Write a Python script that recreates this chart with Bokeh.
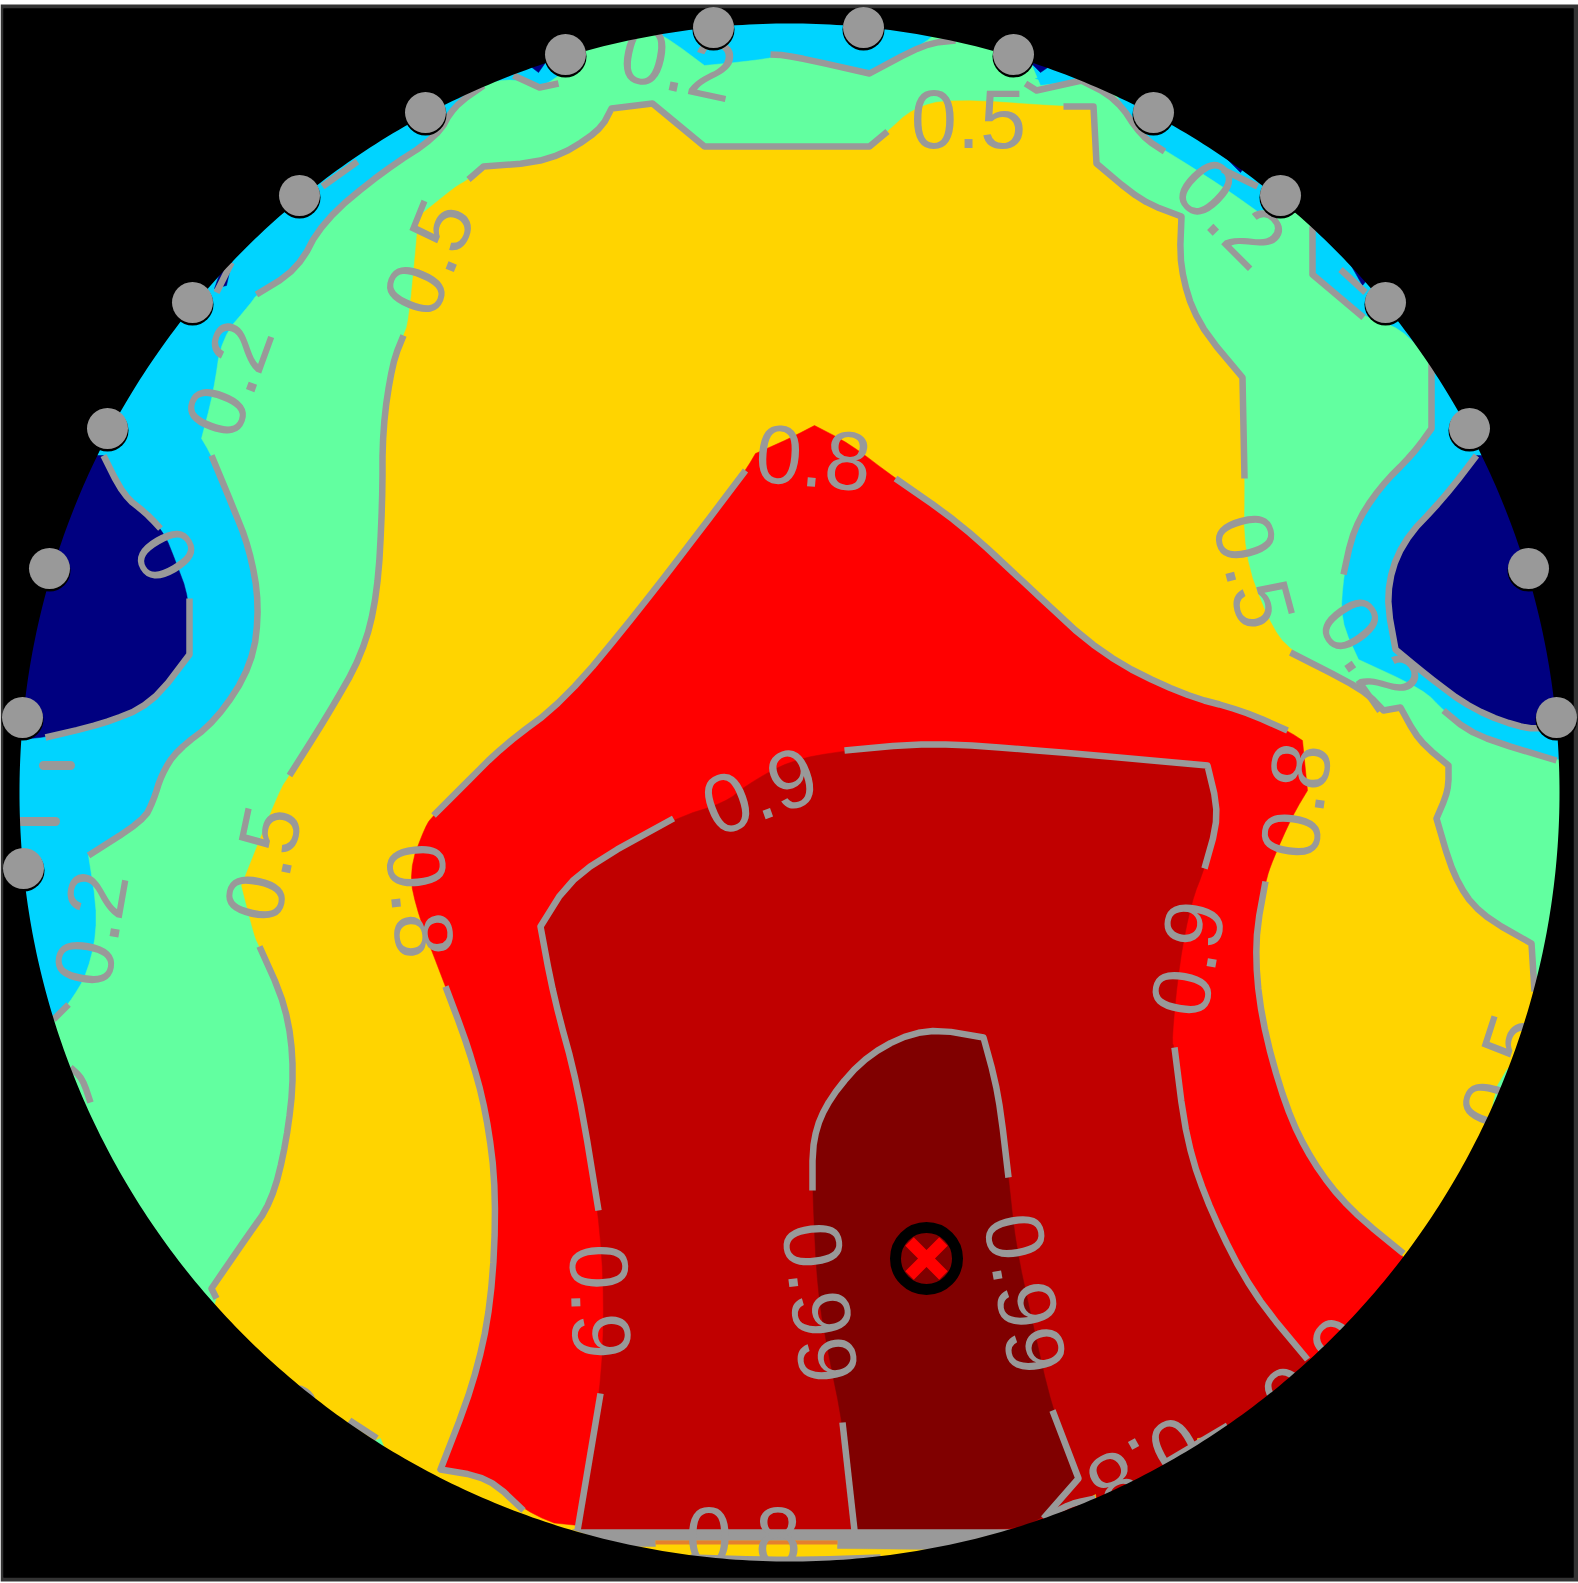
import numpy as np
from bokeh.plotting import figure
from bokeh.models import Range1d
from bokeh.core.properties import value
from bokeh.embed import file_html
from bokeh.resources import INLINE

C_NAVY, C_BLUE, C_GREEN, C_YELLOW = "#000080", "#00D4FF", "#62FFA0", "#FFD400"
C_RED, C_DARK, C_DARKEST = "#FF0000", "#C00000", "#800000"
C_GRAY = "#999999"

electrode_x = [713, 565, 425, 299, 192, 107, 49, 22, 23, 863, 1013, 1153, 1280, 1385, 1469, 1528, 1556]
electrode_y = [27, 54, 112, 195, 302, 428, 568, 717, 868, 27, 54, 112, 195, 302, 428, 568, 717]
source_x, source_y = [926], [1258]

green_region = [(5,1030),(53,1019),(68,1004),(88,971),(98,919),(88,855),(143,820),(153,800),(161,774),(176,750),(216,720),(252,664),(259,604),(249,548),(231,503),(211,455),(201,438),(213,392),(221,337),(251,302),(256,294),(297,269),(322,221),(382,171),(437,136),(453,106),(483,83),(513,78),(539,87),(560,75),(589,45),(620,15),(664,35),(704,65),(755,60),(789,54),(869,73),(925,43),(955,15),(1010,15),(1040,85),(1080,80),(1116,95),(1141,136),(1165,150),(1222,186),(1257,211),(1290,205),(1312,226),(1312,274),(1363,317),(1400,327),(1431,362),(1431,428),(1413,453),(1378,488),(1353,528),(1343,574),(1340,620),(1358,659),(1423,689),(1443,710),(1473,735),(1556,760),(1570,760),(1570,1575),(5,1575)]
yellow_region = [(216,1298),(211,1288),(246,1237),(271,1202),(286,1142),(294,1071),(286,1006),(259,946),(254,936),(241,885),(279,790),(289,775),(327,715),(362,654),(377,594),(382,503),(382,428),(392,362),(403,335),(408,322),(415,252),(418,216),(455,186),(468,179),(483,166),(549,161),(599,131),(611,108),(652,103),(704,146),(789,146),(869,146),(887,131),(912,108),(950,98),(1061,106),(1093,106),(1096,163),(1141,201),(1181,216),(1179,266),(1196,322),(1242,377),(1244,478),(1243,553),(1267,619),(1290,652),(1363,689),(1383,710),(1400,707),(1418,740),(1448,765),(1448,790),(1436,818),(1453,876),(1478,913),(1531,943),(1534,991),(1570,995),(1570,1575),(150,1575)]
red_region = [(745,470),(705,523),(639,609),(564,700),(503,745),(463,785),(433,815),(425,825),(408,871),(418,916),(445,986),(468,1047),(486,1112),(496,1193),(491,1303),(473,1384),(440,1469),(488,1477),(523,1510),(572,1530),(1012,1530),(1050,1570),(1450,1320),(1403,1253),(1348,1208),(1312,1162),(1285,1107),(1260,1016),(1254,941),(1265,881),(1272,860),(1292,815),(1307,790),(1302,740),(1287,730),(1242,710),(1181,694),(1101,654),(1031,589),(960,523),(895,478),(849,443),(814,425),(789,438),(755,453)]
dark_region = [(673,818),(573,873),(540,926),(553,996),(578,1087),(598,1210),(604,1300),(600,1393),(577,1530),(1012,1530),(1050,1570),(1350,1400),(1307,1359),(1252,1293),(1211,1213),(1186,1142),(1174,1047),(1171,1041),(1179,961),(1191,901),(1204,868),(1219,815),(1207,765),(1040,750),(930,742),(844,750),(789,760),(745,785),(725,802)]
darkest_region = [(812,1190),(812,1137),(829,1097),(869,1052),(925,1027),(983,1037),(998,1092),(1008,1177),(1015,1243),(1031,1318),(1052,1410),(1078,1478),(1043,1518),(1012,1530),(855,1530),(842,1422),(829,1359),(817,1293)]
navy_regions = [
    [(103,455),(123,495),(146,513),(164,533),(174,558),(189,598),(189,654),(151,704),(101,724),(45,737),(5,740),(5,455)],
    [(1476,455),(1443,498),(1400,543),(1385,594),(1395,649),(1425,674),(1473,710),(1529,730),(1554,725),(1570,725),(1570,455)],
    [(525,62),(545,62),(538,72)],
    [(1030,62),(1050,65),(1040,72)],
    [(221,268),(232,258),(226,285),(214,288)],
    [(1218,150),(1245,165),(1240,172)],
    [(1345,255),(1370,275),(1362,285)],
]
blue_bits = [[(1035,78),(1062,72),(1075,80),(1050,82)]]
yellow_bits = [[(1085,1500),(1095,1494),(1096,1502),(1086,1506)],[(1197,1438),(1205,1437),(1205,1444),(1197,1445)]]
green_bits = [[(1497,1085),(1507,1068),(1510,1090),(1492,1106)],[(372,1441),(380,1438),(385,1450),(375,1450)]]
bottom_band = [(572,1529),(1012,1529),(937,1549),(837,1548),(837,1540),(655,1540),(655,1546),(620,1546)]

contour_0 = [
    [(103,455),(123,495),(146,513),(160,528)],
    [(189,598),(189,654),(151,704),(101,724),(45,737)],
    [(1476,455),(1443,498),(1400,543),(1385,594),(1395,649),(1425,674),(1473,710),(1529,730),(1554,725)],
]
contour_02 = [
    [(53,1019),(68,1004)],
    [(88,855),(143,820),(153,800),(161,774),(176,750),(216,720),(252,664),(259,604),(249,548),(231,503),(211,455)],
    [(256,294),(297,269),(322,221),(382,171),(437,136),(453,106),(483,85)],
    [(513,75),(539,87),(558,83)],
    [(770,54),(789,55),(869,73),(925,43),(955,40)],
    [(1025,83),(1036,90),(1081,80),(1116,98),(1141,136),(1164,151)],
    [(1222,169),(1257,186)],
    [(1312,226),(1312,274),(1363,317)],
    [(1340,269),(1365,292)],
    [(1431,362),(1431,428),(1413,453),(1378,488),(1353,528),(1343,574)],
    [(1443,710),(1473,735),(1556,760)],
    [(322,186),(357,161)],
    [(231,262),(216,292)],
    [(70,1067),(82,1078),(90,1102)],
]
contour_05 = [
    [(216,1298),(211,1288),(246,1237),(271,1202),(286,1142),(294,1071),(286,1006),(259,946)],
    [(289,775),(327,715),(362,654),(377,594),(382,503),(382,428),(392,362),(403,335)],
    [(468,179),(483,166),(549,161),(599,131),(611,108),(652,103),(704,146),(789,146),(869,146),(887,131)],
    [(1063,106),(1093,106),(1096,163),(1141,201),(1181,216),(1179,266),(1196,322),(1242,377),(1244,478)],
    [(1290,652),(1363,689),(1383,710),(1400,707),(1418,740),(1448,765),(1448,790),(1436,818),(1453,876),(1478,913),(1531,943),(1534,991)],
]
contour_08 = [
    [(745,470),(705,523),(639,609),(564,700),(503,745),(463,785),(433,815)],
    [(445,986),(468,1047),(486,1112),(496,1193),(491,1303),(473,1384),(440,1469),(488,1477),(523,1510)],
    [(895,478),(960,523),(1031,589),(1101,654),(1181,694),(1242,710),(1287,730)],
    [(1265,881),(1254,941),(1260,1016),(1285,1107),(1312,1162),(1348,1208),(1403,1253)],
    [(1043,1518),(1070,1503),(1095,1498)],
    [(1163,1463),(1227,1425)],
    [(690,1557),(789,1560),(880,1557)],
]
contour_09 = [
    [(673,818),(573,873),(540,926),(553,996),(578,1087),(598,1210)],
    [(600,1393),(577,1530)],
    [(844,750),(930,742),(1040,750),(1207,765),(1219,815),(1204,868)],
    [(1174,1047),(1186,1142),(1211,1213),(1252,1293),(1307,1359)],
]
contour_099 = [
    [(812,1190),(812,1137),(829,1097),(869,1052),(925,1027),(983,1037),(998,1092),(1008,1177)],
    [(1052,1410),(1078,1478),(1043,1518)],
    [(842,1422),(854,1530)],
]
blobs = [[(43,765),(70,765)],[(20,821),(55,821)]]

label_text = ["0.2","0.5","0.2","0","0.5","0.2","0.8","0.5","0.2","0.9","0.8","0.8","0.9","0.5","0.2","0.9","0.99","0.99","0.8","0.8","0.9","0.5","0.5"]
label_x = [678,428,228,166,968,1230,813,1254,1370,759,1295,420,1187,262,90,600,820,1025,743,1145,1315,1502,320]
label_y = [62,257,378,554,118,212,457,570,652,790,800,900,958,863,928,1301,1302,1293,1535,1465,1370,1072,1431]
label_angle = [-12,68,70,-60,0,-45,-5,-75,-55,20,82,-84,80,78,80,-88,-83,-80,0,209,45,72,-33]

W, H = 1578, 1583
p = figure(width=W, height=H, x_range=Range1d(0, W), y_range=Range1d(H, 0),
           toolbar_location=None, output_backend="svg", min_border=0,
           x_axis_type=None, y_axis_type=None, outline_line_color=None)
p.grid.visible = False
p.background_fill_color = "#ffffff"
p.border_fill_color = "#ffffff"
p.styles = {"position": "absolute", "left": "0px", "top": "0px"}


def round_corners(pts, closed, limit=35.0, passes=2):
    """Round the gentle bends of a traced outline; keep its sharp corners."""
    pts = [tuple(map(float, q)) for q in pts]
    for _ in range(passes):
        out = []
        n = len(pts)
        for i, q in enumerate(pts):
            if not closed and i in (0, n - 1):
                out.append(q)
                continue
            a, b = pts[(i - 1) % n], pts[(i + 1) % n]
            turn = np.degrees(np.arctan2(b[1] - q[1], b[0] - q[0]) - np.arctan2(q[1] - a[1], q[0] - a[0]))
            turn = abs((turn + 180) % 360 - 180)
            if turn < limit:
                out.append((q[0] + (a[0] - q[0]) * 0.25, q[1] + (a[1] - q[1]) * 0.25))
                out.append((q[0] + (b[0] - q[0]) * 0.25, q[1] + (b[1] - q[1]) * 0.25))
            else:
                out.append(q)
        pts = out
    return [q[0] for q in pts], [q[1] for q in pts]


def fill(poly, color, smooth=True):
    x, y = round_corners(poly, True, passes=2 if smooth else 0)
    p.patch(x, y, fill_color=color, line_color=color, line_width=0.5)


p.quad(left=[0], right=[1578], top=[4], bottom=[1581], fill_color="#333333", line_color=None)
p.quad(left=[3], right=[1573], top=[8], bottom=[1577], fill_color="#000000", line_color=None)
p.quad(left=[12], right=[1566], top=[15], bottom=[1570], fill_color=C_BLUE, line_color=None)
fill(green_region, C_GREEN)
fill(yellow_region, C_YELLOW)
fill(red_region, C_RED)
fill(dark_region, C_DARK)
fill(darkest_region, C_DARKEST)
for r in navy_regions:
    fill(r, C_NAVY)
for r in blue_bits:
    fill(r, C_BLUE, False)
for r in yellow_bits:
    fill(r, C_YELLOW, False)
for r in green_bits:
    fill(r, C_GREEN, False)
fill(bottom_band, C_GRAY, False)
p.line([655, 837], [1542, 1542], line_color="#E4802E", line_width=4)

for group in (contour_0, contour_02, contour_05, contour_08, contour_09, contour_099):
    traced = [round_corners(s, False) for s in group]
    p.multi_line([t[0] for t in traced], [t[1] for t in traced], line_color=C_GRAY,
                 line_width=6.5, line_join="round", line_cap="butt")
p.multi_line([[q[0] for q in s] for s in blobs], [[q[1] for q in s] for s in blobs],
             line_color=C_GRAY, line_width=9, line_cap="round")

p.text(label_x, label_y, text=label_text, angle=label_angle, angle_units="deg",
       text_font=value("Liberation Sans"), text_font_size="83px", text_color=C_GRAY,
       text_align="center", text_baseline="middle")

t = np.linspace(0, 2 * np.pi, 721)
hole_x = 789 + 770 * np.cos(t)
hole_y = 792 + 769 * np.sin(t)
p.multi_polygons(xs=[[[[3, 1573, 1573, 3], hole_x.tolist()]]],
                 ys=[[[[8, 8, 1577, 1577], hole_y.tolist()]]],
                 fill_color="#000000", line_color=None)

p.scatter(electrode_x, [y + 2 for y in electrode_y], size=42, fill_color="#000000", line_color=None)
p.scatter(electrode_x, electrode_y, size=41, fill_color=C_GRAY, line_color=None)

p.scatter(source_x, source_y, size=62, fill_color=C_DARKEST, line_color="#000000", line_width=11)
p.scatter(source_x, source_y, marker="x", size=48, line_color="#FF0000", line_width=12)

open("out.html", "w").write(file_html(p, INLINE))
